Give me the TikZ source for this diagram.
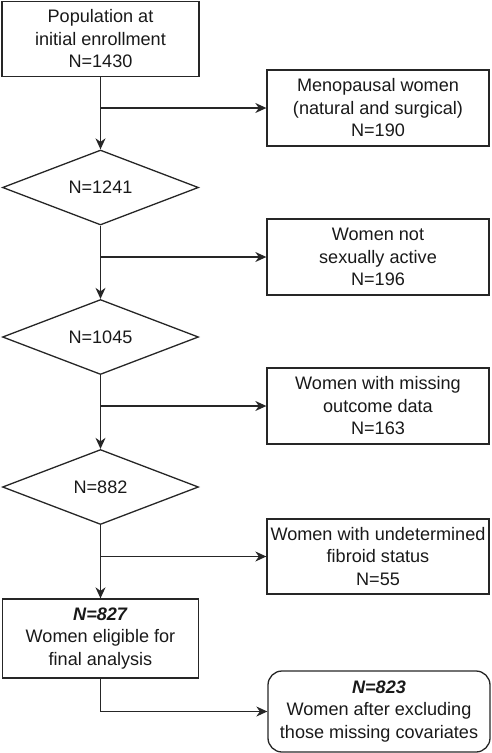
\documentclass[tikz,border=0pt]{standalone}
\usepackage{fontspec}
\setmainfont{Liberation Sans}
\usetikzlibrary{shapes.geometric,arrows.meta}
\begin{document}
\begin{tikzpicture}[x=1pt,y=-1pt,
  every node/.style={font=\fontsize{18.1}{22.5}\selectfont, text=black!90, align=center, inner sep=0pt},
  box/.style={draw=black!85, line width=1.3pt, rectangle, minimum width=197pt, minimum height=75pt},
  rbox/.style={draw=black!85, line width=1.3pt, rectangle, minimum width=222pt, minimum height=76pt},
  dia/.style={draw=black!85, line width=1.3pt, diamond, shape aspect=2.6, minimum width=196pt, minimum height=75pt},
  conn/.style={draw=black!85, line width=1.3pt, -{Stealth[length=11pt,width=10pt,inset=3.5pt]}}
]
\useasboundingbox (0,0) rectangle (491,753);
\node[box] (top) at (100.5,39) {Population at\\initial enrollment\\N=1430};
\node[dia] (d1) at (100.5,187.5) {N=1241};
\node[dia] (d2) at (100.5,337) {N=1045};
\node[dia] (d3) at (100.5,487) {N=882};
\node[box, minimum width=196pt, minimum height=79pt] (fin) at (100.5,638.5) {\textbf{\textit{N=827}}\\Women eligible for\\final analysis};
\node[rbox] (r1) at (378,108) {Menopausal women\\(natural and surgical)\\N=190};
\node[rbox] (r2) at (378,257) {Women not\\sexually active\\N=196};
\node[rbox] (r3) at (378,406) {Women with missing\\outcome data\\N=163};
\node[rbox, minimum height=75pt] (r4) at (378,556.5) {Women with undetermined\\fibroid status\\N=55};
\node[draw=black!85, line width=1.3pt, rectangle, rounded corners=14pt, minimum width=222pt, minimum height=81pt] (r5) at (379,711.5) {\textbf{\textit{N=823}}\\Women after excluding\\those missing covariates};
\draw[conn] (top.south) -- (d1.north);
\draw[conn] (d1.south) -- (d2.north);
\draw[conn] (d2.south) -- (d3.north);
\draw[conn] (d3.south) -- (fin.north);
\draw[conn] (top.south |- r1.west) -- (r1.west);
\draw[conn] (d1.south |- r2.west) -- (r2.west);
\draw[conn] (d2.south |- r3.west) -- (r3.west);
\draw[conn] (d3.south |- r4.west) -- (r4.west);
\draw[conn] (fin.south) |- (r5.west);
\end{tikzpicture}
\end{document}
